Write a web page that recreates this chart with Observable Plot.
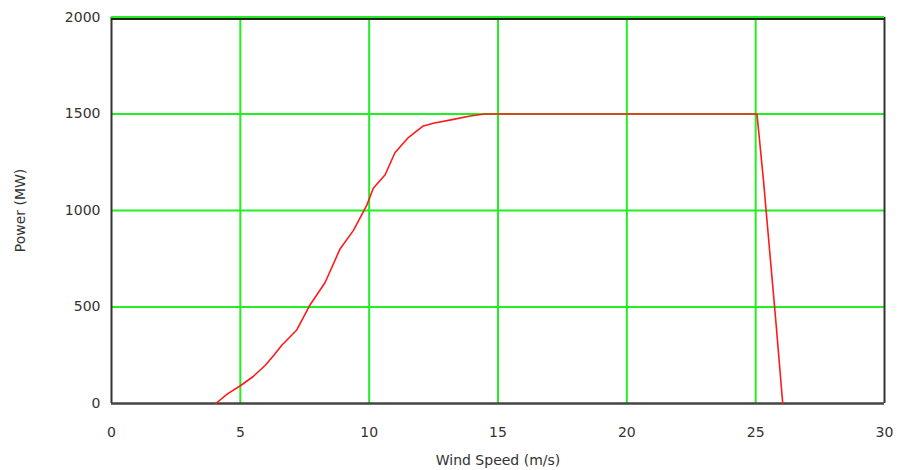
<!DOCTYPE html>
<html>
<head>
<meta charset="utf-8">
<script src="https://cdn.jsdelivr.net/npm/d3@7"></script>
<script src="https://cdn.jsdelivr.net/npm/@observablehq/plot@0.6"></script>
<style>
  html, body { margin: 0; padding: 0; background: #fff; }
  #chart svg { display: block; }
</style>
</head>
<body>
<div id="chart"></div>
<script>
const windSpeed = [4.05, 4.5, 5.0, 5.5, 5.96, 6.3, 6.61, 7.19, 7.71, 8.29, 8.87, 9.39, 9.91, 10.16, 10.62, 11.0, 11.52, 12.1, 12.49, 13.27, 13.92, 14.5, 15, 20, 25.05, 25.3, 25.55, 25.8, 26.05];
const power = [0, 50, 92, 140, 197, 250, 302, 381, 512, 627, 801, 897, 1028, 1115, 1185, 1299, 1378, 1438, 1452, 1472, 1490, 1500, 1500, 1500, 1500, 1160, 780, 400, 0];
const xTicks = [0, 5, 10, 15, 20, 25, 30];
const yTicks = [0, 500, 1000, 1500, 2000];

const data = windSpeed.map((w, i) => ({w, p: power[i]}));
const font = "'DejaVu Sans', sans-serif";

const chart = Plot.plot({
  width: 902,
  height: 470,
  marginLeft: 111,
  marginRight: 18,
  marginTop: 17,
  marginBottom: 67,
  style: {fontFamily: font, fontSize: "13px", color: "#333", background: "#fff"},
  x: {domain: [0, 30], ticks: xTicks},
  y: {domain: [0, 2000], ticks: yTicks},
  marks: [
    Plot.ruleX(xTicks.filter(d => d > 0 && d < 30), {stroke: "#22ee22", strokeWidth: 2}),
    Plot.ruleY(yTicks.filter(d => d > 0 && d < 2000), {stroke: "#22ee22", strokeWidth: 2}),
    Plot.ruleX([0, 30], {stroke: "#333", strokeWidth: 2}),
    Plot.ruleY([0], {stroke: "#444", strokeWidth: 2.5}),
    Plot.ruleY([2000], {stroke: "#222", strokeWidth: 3, dy: 1}),
    Plot.ruleY([2000], {stroke: "#22ee22", strokeWidth: 2, dy: -0.5}),
    Plot.line(data, {x: "w", y: "p", stroke: "#ff1a1a", strokeWidth: 1.6}),
    Plot.axisX({ticks: xTicks, tickSize: 0, tickPadding: 24, tickFormat: d => String(d), label: "Wind Speed (m/s)", labelArrow: "none", labelAnchor: "center", labelOffset: 61, fontSize: 14}),
    Plot.axisY({ticks: yTicks, tickSize: 0, tickPadding: 11, tickFormat: d => String(d), label: "Power (MW)", labelArrow: "none", labelAnchor: "center", labelOffset: 96, fontSize: 14})
  ]
});
document.getElementById("chart").appendChild(chart);
</script>
</body>
</html>
